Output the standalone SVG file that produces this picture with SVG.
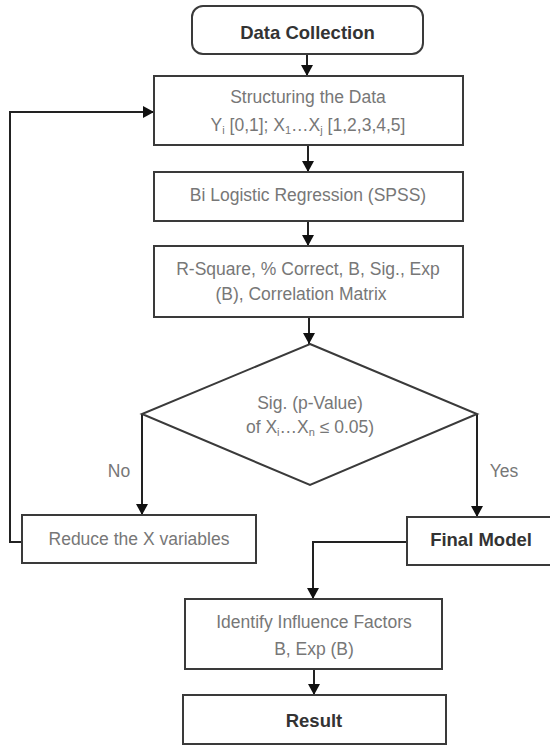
<svg xmlns="http://www.w3.org/2000/svg" width="550" height="746" viewBox="0 0 550 746">
<defs>
<marker id="ah" viewBox="0 0 11 12" refX="11" refY="6" markerWidth="11" markerHeight="12" markerUnits="userSpaceOnUse" orient="auto">
<path d="M0,0 L11,6 L0,12 Z" fill="#111"/>
</marker>
<style>
.box{fill:#fff;stroke:#3a3a3a;stroke-width:2}
.t{font-family:"Liberation Sans",Arial,sans-serif;font-size:17.5px;fill:#777;text-anchor:middle}
.b{font-family:"Liberation Sans",Arial,sans-serif;font-size:18.5px;font-weight:bold;fill:#333;text-anchor:middle}
.c{fill:none;stroke:#222;stroke-width:2}
.s{font-size:11px}
</style>
</defs>
<rect width="550" height="746" fill="#fff"/>
<g id="connectors">
<line class="c" x1="307" y1="54" x2="307" y2="76" marker-end="url(#ah)"/>
<line class="c" x1="308" y1="145" x2="308" y2="172" marker-end="url(#ah)"/>
<line class="c" x1="308" y1="221" x2="308" y2="246" marker-end="url(#ah)"/>
<line class="c" x1="309" y1="317" x2="309" y2="344" marker-end="url(#ah)"/>
<polyline class="c" points="142,414 142,515" marker-end="url(#ah)"/>
<polyline class="c" points="477,414 477,517" marker-end="url(#ah)"/>
<polyline class="c" points="22,542 10,542 10,112 154,112" marker-end="url(#ah)"/>
<polyline class="c" points="407,542 313,542 313,599" marker-end="url(#ah)"/>
<line class="c" x1="314" y1="669" x2="314" y2="695" marker-end="url(#ah)"/>
<text class="t" x="119" y="477">No</text>
<text class="t" x="504" y="477">Yes</text>
</g>
<g id="data-collection">
<rect class="box" x="192" y="6" width="231" height="48" rx="11"/>
<text class="b" x="307.5" y="39">Data Collection</text>
</g>
<g id="structuring">
<rect class="box" x="154" y="76" width="309" height="69"/>
<text class="t" x="308" y="103">Structuring the Data</text>
<text class="t" x="308" y="131">Y<tspan class="s" dy="3">i</tspan><tspan dy="-3"> [0,1]; X</tspan><tspan class="s" dy="3">1</tspan><tspan dy="-3">…X</tspan><tspan class="s" dy="3">j</tspan><tspan dy="-3"> [1,2,3,4,5]</tspan></text>
</g>
<g id="logistic">
<rect class="box" x="154" y="172" width="309" height="49"/>
<text class="t" x="308" y="201">Bi Logistic Regression (SPSS)</text>
</g>
<g id="rsquare">
<rect class="box" x="154" y="246" width="309" height="71"/>
<text class="t" x="308" y="275">R-Square, % Correct, B, Sig., Exp</text>
<text class="t" x="301" y="300">(B), Correlation Matrix</text>
</g>
<g id="decision">
<polygon class="box" points="310,344 477,414 310,485 142,414"/>
<text class="t" x="310" y="409">Sig. (p-Value)</text>
<text class="t" x="310" y="433">of X<tspan class="s" dy="3">i</tspan><tspan dy="-3">…X</tspan><tspan class="s" dy="3">n</tspan><tspan dy="-3"> ≤ 0.05)</tspan></text>
</g>
<g id="reduce">
<rect class="box" x="22" y="515" width="234" height="48"/>
<text class="t" x="139" y="545">Reduce the X variables</text>
</g>
<g id="final-model">
<rect class="box" x="407" y="517" width="150" height="48"/>
<text class="b" x="481" y="546">Final Model</text>
</g>
<g id="identify">
<rect class="box" x="185" y="599" width="257" height="70"/>
<text class="t" x="314" y="628">Identify Influence Factors</text>
<text class="t" x="314" y="655">B, Exp (B)</text>
</g>
<g id="result">
<rect class="box" x="183" y="695" width="263" height="49"/>
<text class="b" x="314" y="727">Result</text>
</g>
</svg>
